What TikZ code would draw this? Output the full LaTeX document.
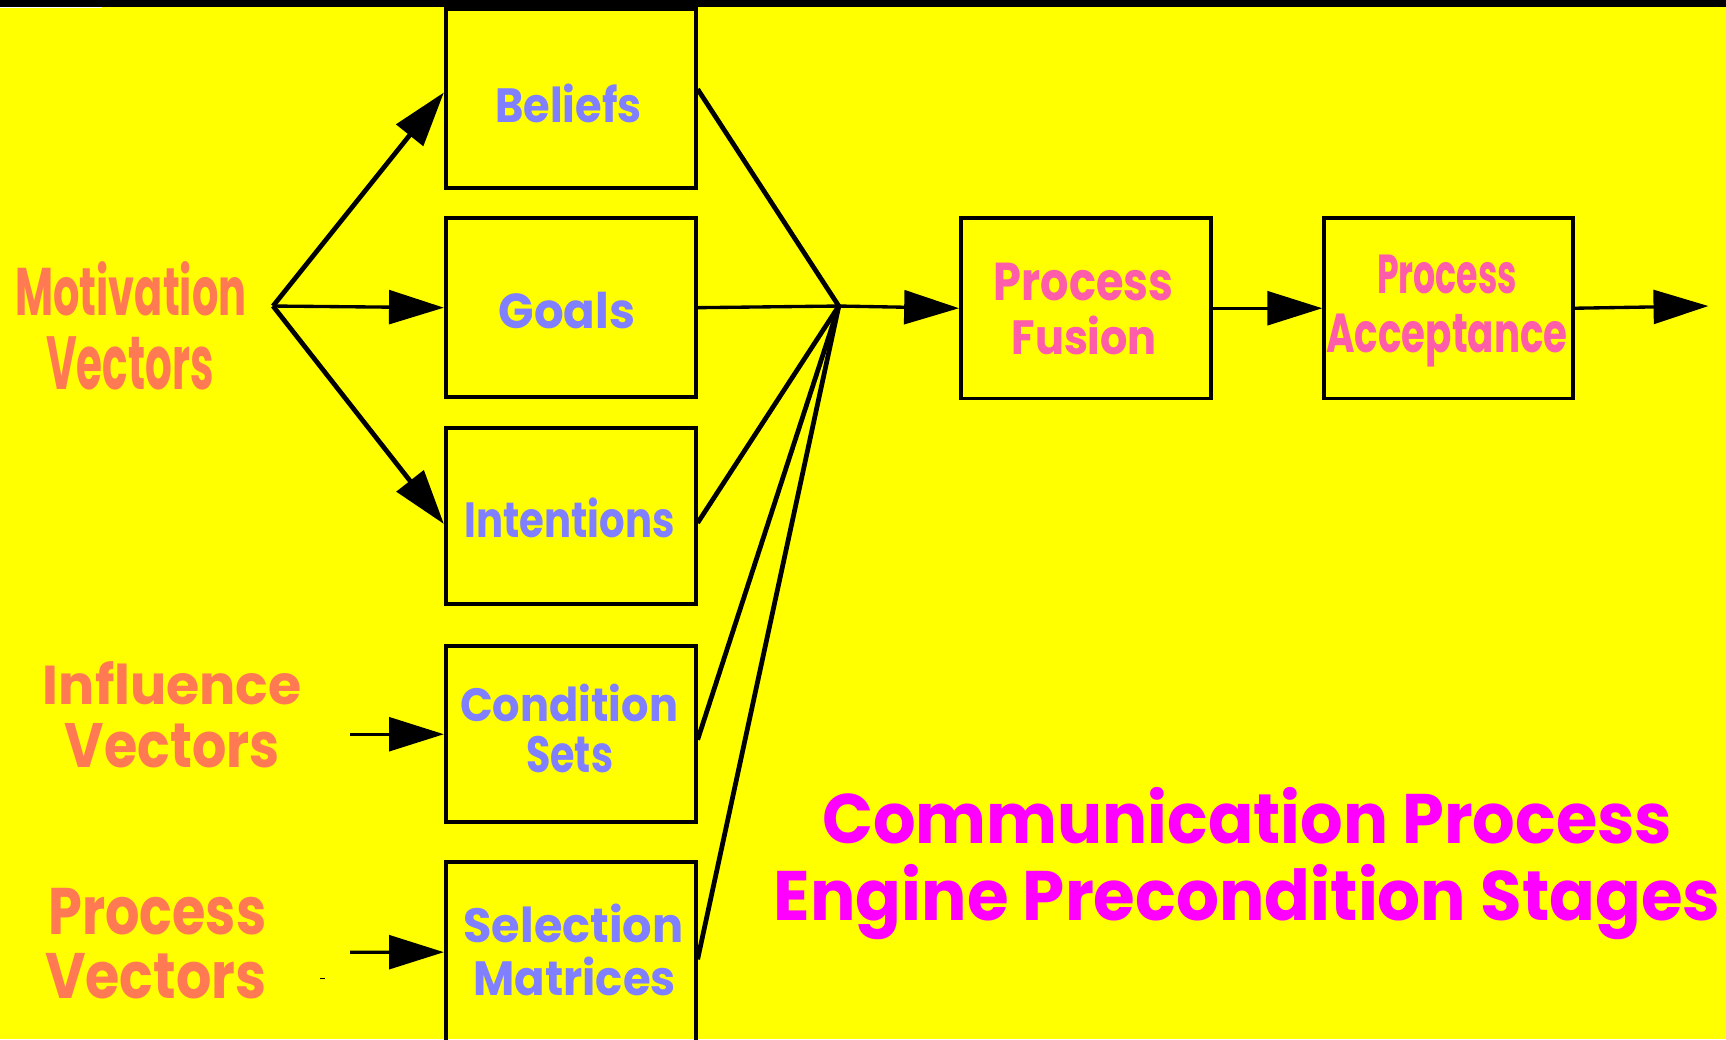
\documentclass[tikz,border=0pt]{standalone}
\usepackage{fontspec}
\setmainfont{Poppins}
\usepackage{graphicx}
\usetikzlibrary{arrows.meta}
\definecolor{bgy}{RGB}{255,255,0}
\definecolor{vecc}{RGB}{255,122,82}
\definecolor{boxtxt}{RGB}{128,128,255}
\definecolor{proctxt}{RGB}{255,92,170}
\definecolor{ttl}{RGB}{255,0,255}
\newlength\pxu
\setlength\pxu{0.011008cm}
\newcommand\fitt[3]{\resizebox{#1\pxu}{#2\pxu}{\bfseries #3}}
\begin{document}
\begin{tikzpicture}[x=0.011008cm, y=-0.011008cm,
  blk/.style={draw=black, line width=1.1pt, rectangle, inner sep=0pt},
  lbl/.style={inner sep=0pt, outer sep=0pt, anchor=base},
  hline/.style={line width=0.95pt},
  diag/.style={line width=1.35pt},
  arr/.style={-{Triangle[length=15.6pt,width=9.6pt]}},
  sz/.style 2 args={minimum width=#1*0.011008cm, minimum height=#2*0.011008cm}]
\fill[bgy] (0,0) rectangle (1568,944);
\useasboundingbox (0,0) rectangle (1568,944);
\clip (0,0) rectangle (1568,944);
\fill[black] (0,0) rectangle (1568,6);
\fill[white] (0,6) rectangle (93,7.5);
\fill[black] (291,888.5) rectangle (295,889.8);

% boxes
\node[blk, sz={227}{163}] (bel) at (518.5,89.5) {};
\node[blk, sz={227}{163}] (goa) at (518.5,279.5) {};
\node[blk, sz={227}{160}] (int) at (518.5,469) {};
\node[blk, sz={227}{160}] (con) at (518.5,667) {};
\node[blk, sz={227}{177}] (sel) at (518.5,871.5) {};
\node[blk, sz={227}{164}] (fus) at (986.5,280) {};
\node[blk, sz={226}{164}] (acc) at (1316,280) {};

% connector points
\coordinate (mv) at (248,278);
\coordinate (fp) at (762,278);
\coordinate (out) at (1552,278);
\coordinate (inf0) at (318,667);
\coordinate (pv0) at (318,865);

% connectors
\draw[diag, arr] (mv) -- ([yshift=0.0605cm]bel.west);
\draw[hline, arr] (mv) -- (goa.west);
\draw[diag, arr] (mv) -- ([yshift=-0.077cm]int.west);
\draw[diag] ([yshift=0.0936cm]bel.east) -- (fp);
\draw[hline] (goa.east) -- (fp);
\draw[diag] ([yshift=-0.066cm]int.east) -- (fp);
\draw[diag] ([yshift=-0.055cm]con.east) -- (fp);
\draw[diag] (sel.east) -- (fp);
\draw[hline, arr] (fp) -- (fus.west);
\draw[hline, arr] (fus.east) -- (acc.west);
\draw[hline, arr] (acc.east) -- (out);
\draw[hline, arr] (inf0) -- (con.west);
\draw[hline, arr] (pv0) -- ([yshift=0.0716cm]sel.west);

% left labels
\node[lbl, text=vecc] (mot1) at (119,287) {\fitt{210}{49}{Motivation}};
\node[lbl, text=vecc] (mot2) at (118,354) {\fitt{152}{48}{Vectors}};
\node[lbl, text=vecc] (inf1) at (156.5,640) {\fitt{235}{39}{Influence}};
\node[lbl, text=vecc] (inf2) at (156.5,697) {\fitt{195}{40}{Vectors}};
\node[lbl, text=vecc] (pvl1) at (143,849) {\fitt{198}{42}{Process}};
\node[lbl, text=vecc] (pvl2) at (141.5,907) {\fitt{201}{41}{Vectors}};

% box labels
\node[lbl, text=boxtxt] (belt) at (516.5,111) {\fitt{133}{35}{Beliefs}};
\node[lbl, text=boxtxt] (goat) at (515,298) {\fitt{124}{33}{Goals}};
\node[lbl, text=boxtxt] (intt) at (517.5,488) {\fitt{191}{36}{Intentions}};
\node[lbl, text=boxtxt] (cont1) at (517,655) {\fitt{198}{34}{Condition}};
\node[lbl, text=boxtxt] (cont2) at (517.5,702) {\fitt{79}{33}{Sets}};
\node[lbl, text=boxtxt] (selt1) at (521,856) {\fitt{200}{35}{Selection}};
\node[lbl, text=boxtxt] (selt2) at (522,904) {\fitt{184}{35}{Matrices}};
\node[lbl, text=proctxt] (fust1) at (984.5,273) {\fitt{163}{34}{Process}};
\node[lbl, text=proctxt] (fust2) at (985,322) {\fitt{132}{35}{Fusion}};
\node[lbl, text=proctxt] (acct1) at (1314.5,267) {\fitt{127}{35}{Process}};
\node[lbl, text=proctxt] (acct2) at (1314.5,320) {\fitt{219}{35}{Acceptance}};

% title
\node[lbl, text=ttl] (ttl1) at (1133,766) {\fitt{772}{51}{Communication Process}};
\node[lbl, text=ttl] (ttl2) at (1133,836) {\fitt{860}{51}{Engine Precondition Stages}};
\end{tikzpicture}
\end{document}
